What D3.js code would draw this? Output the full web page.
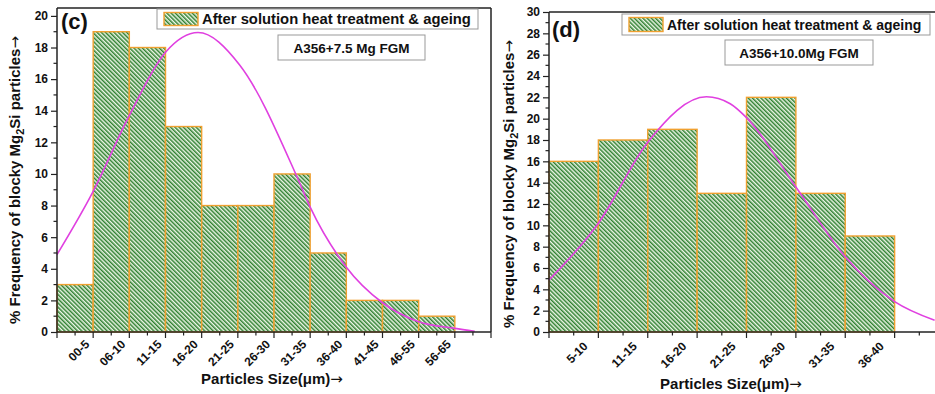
<!DOCTYPE html>
<html>
<head>
<meta charset="utf-8">
<script src="https://cdn.jsdelivr.net/npm/d3@7"></script>
<style>
  body { margin: 0; background: #fff; }
  svg text { font-family: "Liberation Sans", Arial, sans-serif; font-weight: bold; fill: #111; }
  .arrow { font-family: "DejaVu Sans", sans-serif; font-weight: normal; }
</style>
</head>
<body>
<div id="chart"></div>
<script>
// panel (c): A356+7.5 Mg FGM
const sizeLabelsC = ["00-5", "06-10", "11-15", "16-20", "21-25", "26-30", "31-35", "36-40", "41-45", "46-55", "56-65"];
const freqC = [3, 19, 18, 13, 8, 8, 10, 5, 2, 2, 1];
// fitted normal curve: [bin position, %]
const fitC = [[0, 4.9], [1, 8.9], [2, 13.7], [3, 17.7], [3.9, 18.95], [5.05, 16.9], [6.62, 9.9], [7, 7.9], [8, 4.1], [9, 1.85], [10, 0.65], [11, 0.23], [11.55, 0.05]];
const yTicksC = [0, 2, 4, 6, 8, 10, 12, 14, 16, 18, 20];

// panel (d): A356+10.0Mg FGM
const sizeLabelsD = ["5-10", "11-15", "16-20", "21-25", "26-30", "31-35", "36-40"];
const freqD = [16, 18, 19, 13, 22, 13, 9];
const fitD = [[0, 4.87], [1, 10.2], [2, 17.8], [3.19, 22.05], [3.67, 21.4], [4, 20.1], [5, 13.6], [6, 7.05], [7, 2.85], [7.81, 1.1]];
const yTicksD = [0, 2, 4, 6, 8, 10, 12, 14, 16, 18, 20, 22, 24, 26, 28, 30];

const legendText = "After solution heat treatment & ageing";

const W = 935, H = 394;
const svg = d3.select("#chart").append("svg").attr("width", W).attr("height", H);

const defs = svg.append("defs");
const pat = defs.append("pattern").attr("id", "hatch")
  .attr("patternUnits", "userSpaceOnUse")
  .attr("width", 3).attr("height", 3)
  .attr("patternTransform", "rotate(-45)");
pat.append("rect").attr("width", 3).attr("height", 3).attr("fill", "#eef7e8");
pat.append("rect").attr("width", 1.5).attr("height", 3).attr("fill", "#2f8030");

const orange = "#f0a030", magenta = "#e040e0";

function panel(o) {
  const x = d3.scaleLinear().domain([0, o.xMax]).range([o.left, o.right]);
  const y = d3.scaleLinear().domain([0, o.yMax]).range([o.bottom, o.top]);
  const g = svg.append("g");

  // bars
  g.selectAll("rect.bar").data(o.freq).join("rect")
    .attr("class", "bar")
    .attr("x", (d, i) => x(i))
    .attr("y", d => y(d))
    .attr("width", (d, i) => x(i + 1) - x(i))
    .attr("height", d => y(0) - y(d))
    .attr("fill", "url(#hatch)")
    .attr("stroke", orange).attr("stroke-width", 1.4);

  // fit curve
  const line = d3.line().x(d => x(d[0])).y(d => y(d[1])).curve(d3.curveMonotoneX);
  g.append("path").datum(o.fit).attr("d", line)
    .attr("fill", "none").attr("stroke", magenta).attr("stroke-width", 1.6);

  // frame (top / right)
  g.append("line").attr("x1", o.left).attr("x2", o.frameRight).attr("y1", o.top).attr("y2", o.top)
    .attr("stroke", "#222").attr("stroke-width", 1.5);
  if (o.frameRight < W) {
    g.append("line").attr("x1", o.frameRight).attr("x2", o.frameRight).attr("y1", o.top).attr("y2", o.bottom)
      .attr("stroke", "#222").attr("stroke-width", 1.5);
  }

  // y axis
  const ya = g.append("g").attr("transform", `translate(${o.left},0)`)
    .call(d3.axisLeft(y).tickValues(o.yTicks).tickSize(6).tickPadding(3).tickFormat(d3.format("d")));
  ya.selectAll("text").style("font-size", "12px");
  const minorY = d3.range(1, o.yMax, 2);
  ya.selectAll("line.minor").data(minorY).join("line").attr("class", "minor")
    .attr("x1", -3.5).attr("x2", 0).attr("y1", d => y(d)).attr("y2", d => y(d))
    .attr("stroke", "#222").attr("stroke-width", 1.2);
  ya.select(".domain").attr("stroke", "#222").attr("stroke-width", 1.5).attr("d", `M0,${o.bottom}V${o.top}`);
  ya.selectAll(".tick line").attr("stroke", "#222").attr("stroke-width", 1.2);

  // x axis
  const xa = g.append("g").attr("transform", `translate(0,${o.bottom})`);
  xa.append("line").attr("x1", o.left).attr("x2", o.frameRight).attr("stroke", "#222").attr("stroke-width", 1.5);
  const majors = d3.range(0, o.xMax + 1);
  xa.selectAll("line.maj").data(majors).join("line").attr("class", "maj")
    .attr("x1", d => x(d)).attr("x2", d => x(d)).attr("y1", 0).attr("y2", 6)
    .attr("stroke", "#222").attr("stroke-width", 1.2);
  const minors = d3.range(0.5, o.xMax, 1);
  xa.selectAll("line.min").data(minors).join("line").attr("class", "min")
    .attr("x1", d => x(d)).attr("x2", d => x(d)).attr("y1", 0).attr("y2", 3.5)
    .attr("stroke", "#222").attr("stroke-width", 1.2);
  xa.selectAll("text").data(o.labels).join("text")
    .attr("transform", (d, i) => `translate(${x(i + 1) - o.lblDx},${o.lblDy}) rotate(-45)`)
    .attr("text-anchor", "end")
    .style("font-size", "12px")
    .text(d => d);

  // axis titles
  const xt = g.append("text").attr("x", o.xTitleX).attr("y", o.xTitleY)
    .attr("text-anchor", "middle").style("font-size", "15px");
  xt.append("tspan").text("Particles Size(\u03bcm)");
  xt.append("tspan").attr("class", "arrow").style("font-size", "15px").text("\u2192");
  const yt = g.append("text")
    .attr("transform", `translate(${o.yTitleX},${o.yTitleY}) rotate(-90)`)
    .attr("text-anchor", "middle").style("font-size", "15px");
  yt.append("tspan").text("% Frequency of blocky Mg");
  yt.append("tspan").attr("dy", 4).style("font-size", "11px").text("2");
  yt.append("tspan").attr("dy", -4).text("Si particles");
  yt.append("tspan").attr("class", "arrow").text("\u2192");

  // panel letter
  g.append("text").attr("x", o.tagX).attr("y", o.tagY).style("font-size", "22px").text(o.tag);

  // legend
  const lg = o.legend;
  g.append("rect").attr("x", lg.x).attr("y", lg.y).attr("width", lg.w).attr("height", lg.h)
    .attr("fill", "#fff").attr("stroke", "#999").attr("stroke-width", 1);
  g.append("rect").attr("x", lg.x + 7).attr("y", lg.y + 3.5).attr("width", 34).attr("height", lg.h - 7)
    .attr("fill", "url(#hatch)").attr("stroke", orange).attr("stroke-width", 1.4);
  g.append("text").attr("x", lg.x + 45).attr("y", lg.y + lg.h - 5)
    .style("font-size", lg.fs + "px").text(legendText);

  // sample box
  const sb = o.sample;
  g.append("rect").attr("x", sb.x).attr("y", sb.y).attr("width", sb.w).attr("height", sb.h)
    .attr("fill", "#fff").attr("stroke", "#999").attr("stroke-width", 1);
  g.append("text").attr("x", sb.x + sb.w / 2).attr("y", sb.y + sb.h - 7)
    .attr("text-anchor", "middle").style("font-size", "13.5px").text(sb.text);
}

panel({
  freq: freqC, fit: fitC, labels: sizeLabelsC, yTicks: yTicksC,
  xMax: 12, yMax: 20.5, left: 57, right: 491, frameRight: 491, top: 8, bottom: 332,
  lblDx: 3, lblDy: 13, xTitleX: 272, xTitleY: 384, yTitleX: 20, yTitleY: 180,
  tag: "(c)", tagX: 61, tagY: 29,
  legend: { x: 157, y: 9, w: 321, h: 20, fs: 14.8 },
  sample: { x: 278, y: 35, w: 147, h: 25, text: "A356+7.5 Mg FGM" }
});

panel({
  freq: freqD, fit: fitD, labels: sizeLabelsD, yTicks: yTicksD,
  xMax: 8, yMax: 30, left: 549, right: 944, frameRight: W + 5, top: 12, bottom: 332,
  lblDx: 10, lblDy: 15, xTitleX: 731, xTitleY: 389, yTitleX: 514, yTitleY: 184,
  tag: "(d)", tagX: 552, tagY: 37,
  legend: { x: 622, y: 14, w: 308, h: 21, fs: 14 },
  sample: { x: 725, y: 40, w: 148, h: 25, text: "A356+10.0Mg FGM" }
});
</script>
</body>
</html>
